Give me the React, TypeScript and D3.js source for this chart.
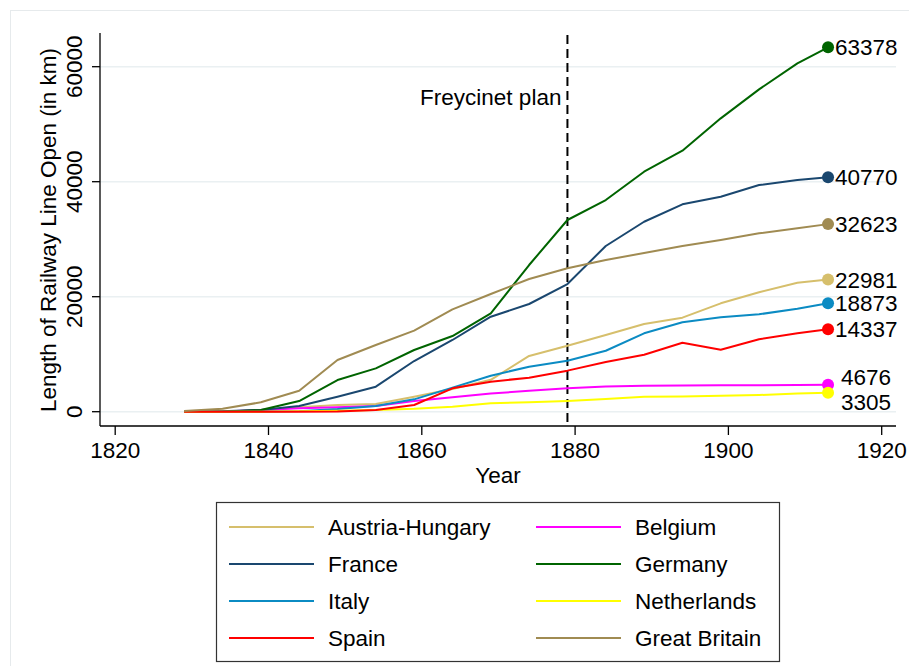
import React from "react";
import * as d3 from "d3";

const years = [1829, 1834, 1839, 1844, 1849, 1854, 1859, 1864, 1869, 1874, 1879, 1884, 1889, 1894, 1899, 1904, 1909, 1913];

const austriaHungary = [0, 0, 200, 770, 1160, 1340, 2610, 3950, 5550, 9700, 11480, 13340, 15250, 16350, 18850, 20760, 22430, 22981];
const belgium = [0, 20, 300, 590, 770, 1000, 1850, 2500, 3150, 3650, 4070, 4400, 4530, 4560, 4590, 4610, 4660, 4676];
const france = [0, 100, 300, 990, 2610, 4350, 8810, 12470, 16520, 18730, 22200, 28820, 33040, 36060, 37390, 39420, 40290, 40770];
const germany = [0, 0, 290, 1860, 5510, 7540, 10730, 13160, 17110, 25510, 33340, 36810, 41740, 45390, 51020, 56060, 60590, 63378];
const italy = [0, 0, 0, 100, 470, 1000, 2150, 4180, 6260, 7830, 8870, 10600, 13630, 15550, 16420, 16940, 17910, 18873];
const netherlands = [0, 0, 0, 100, 170, 300, 500, 870, 1460, 1630, 1860, 2200, 2610, 2650, 2780, 2900, 3150, 3305];
const spain = [0, 0, 0, 0, 30, 300, 1160, 4070, 5220, 5920, 7140, 8650, 9910, 12000, 10780, 12590, 13630, 14337];
const greatBritain = [120, 530, 1630, 3650, 8990, 11600, 14090, 17800, 20470, 23080, 24940, 26380, 27600, 28800, 29860, 31020, 31890, 32623];

const countryNames = ["Austria-Hungary", "Belgium", "France", "Germany", "Italy", "Netherlands", "Spain", "Great Britain"];
const countryValues = [austriaHungary, belgium, france, germany, italy, netherlands, spain, greatBritain];
const countryColors = ["#d6bf6c", "#ff00ff", "#1a476f", "#006400", "#0b8bc3", "#ffff00", "#ff0000", "#a08b52"];

const legendOrder = ["Austria-Hungary", "Belgium", "France", "Germany", "Italy", "Netherlands", "Spain", "Great Britain"];

const xTicks = [1820, 1840, 1860, 1880, 1900, 1920];
const yTicks = [0, 20000, 40000, 60000];
const eventYear = 1879;
const eventLabel = "Freycinet plan";
const xTitle = "Year";
const yTitle = "Length of Railway Line Open (in km)";

const FONT = "'Liberation Sans', Arial, Helvetica, sans-serif";
const FS = 22.5;

export default function App() {
  const x = d3.scaleLinear().domain([1820, 1920]).range([115.2, 881.7]);
  const y = d3.scaleLinear().domain([0, 60000]).range([411.7, 66.7]);
  const line = d3
    .line<number>()
    .x((_, i) => x(years[i]))
    .y((d) => y(d));

  const plotLeft = 100;
  const plotRight = 896;
  const plotTop = 33;
  const plotBottom = 426;

  const labelOffsets: Record<string, { dx: number; dy: number }> = {
    Belgium: { dx: 13, dy: -8 },
    Netherlands: { dx: 13, dy: 9 },
  };

  return (
    <svg
      width={909}
      height={666}
      style={{ position: "absolute", left: 0, top: 0, background: "#fff" }}
      fontFamily={FONT}
    >
      <rect x={0} y={0} width={909} height={666} fill="#fff" />
      <rect x={10.5} y={10.5} width={940} height={700} fill="none" stroke="#e6eaec" strokeWidth={1} />

      {/* grid */}
      {yTicks.map((t) => (
        <line key={"g" + t} x1={plotLeft} x2={plotRight} y1={y(t)} y2={y(t)} stroke="#eaf0f2" strokeWidth={1.5} />
      ))}

      {/* axes */}
      <line x1={plotLeft} x2={plotLeft} y1={plotTop} y2={plotBottom} stroke="#000" strokeWidth={1.3} />
      <line x1={plotLeft} x2={plotRight} y1={plotBottom} y2={plotBottom} stroke="#000" strokeWidth={1.3} />

      {yTicks.map((t) => (
        <g key={"yt" + t}>
          <line x1={plotLeft - 8} x2={plotLeft} y1={y(t)} y2={y(t)} stroke="#000" strokeWidth={1.3} />
          <text
            transform={`translate(82,${y(t)}) rotate(-90)`}
            textAnchor="middle"
            fontSize={FS}
            fill="#000"
          >
            {t}
          </text>
        </g>
      ))}
      {xTicks.map((t) => (
        <g key={"xt" + t}>
          <line x1={x(t)} x2={x(t)} y1={plotBottom} y2={plotBottom + 9} stroke="#000" strokeWidth={1.3} />
          <text x={x(t)} y={458} textAnchor="middle" fontSize={FS} fill="#000">
            {t}
          </text>
        </g>
      ))}

      <text x={(plotLeft + plotRight) / 2} y={483} textAnchor="middle" fontSize={FS} fill="#000">
        {xTitle}
      </text>
      <text transform={`translate(56,230) rotate(-90)`} textAnchor="middle" fontSize={FS} fill="#000">
        {yTitle}
      </text>

      {/* event line */}
      <line
        x1={x(eventYear)}
        x2={x(eventYear)}
        y1={plotTop + 2}
        y2={plotBottom}
        stroke="#000"
        strokeWidth={2}
        strokeDasharray="9,5"
      />
      <text x={x(eventYear) - 6} y={105} textAnchor="end" fontSize={FS} fill="#000">
        {eventLabel}
      </text>

      {/* series */}
      {countryValues.map((vals, i) => (
        <path key={"l" + i} d={line(vals) || ""} fill="none" stroke={countryColors[i]} strokeWidth={2} strokeLinejoin="round" />
      ))}
      {countryValues.map((vals, i) => {
        const last = vals.length - 1;
        const cx = x(years[last]);
        const cy = y(vals[last]);
        const off = labelOffsets[countryNames[i]] || { dx: 7, dy: 0 };
        return (
          <g key={"m" + i}>
            <circle cx={cx} cy={cy} r={6} fill={countryColors[i]} />
            <text x={cx + off.dx} y={cy + off.dy} dy="0.36em" fontSize={FS} fill="#000">
              {vals[last]}
            </text>
          </g>
        );
      })}

      {/* legend */}
      <rect x={216.5} y={502.5} width={563} height={159} fill="#fff" stroke="#333" strokeWidth={1.2} />
      {legendOrder.map((name, k) => {
        const i = countryNames.indexOf(name);
        const col = k % 2;
        const row = Math.floor(k / 2);
        const lx = col === 0 ? 229 : 536;
        const ly = 527 + row * 37;
        return (
          <g key={"lg" + name}>
            <line x1={lx} x2={lx + 85} y1={ly} y2={ly} stroke={countryColors[i]} strokeWidth={2} />
            <text x={lx + 99} y={ly} dy="0.36em" fontSize={FS} fill="#000">
              {name}
            </text>
          </g>
        );
      })}
    </svg>
  );
}
